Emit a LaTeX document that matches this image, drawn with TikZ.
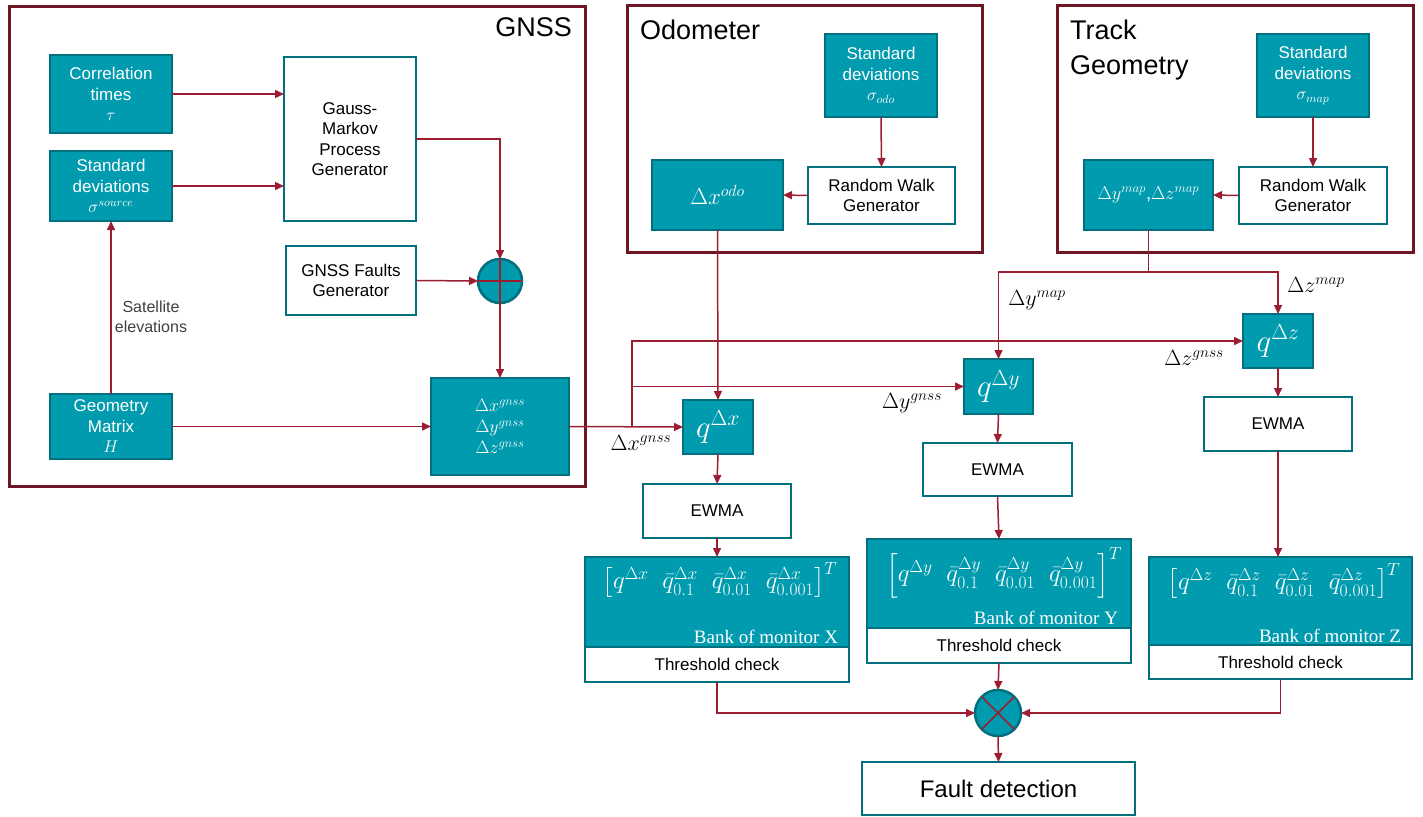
\documentclass[tikz,border=0pt]{standalone}
\usepackage{fix-cm}
\usepackage{amsmath}
\usepackage{fontspec}
\setmainfont{Liberation Sans}
\newfontfamily\bankfont{Liberation Serif}
\usetikzlibrary{arrows.meta}
\definecolor{tealfill}{RGB}{0,155,174}
\definecolor{tealline}{RGB}{0,112,127}
\definecolor{arrc}{RGB}{155,30,50}
\definecolor{framec}{RGB}{110,22,35}
\definecolor{grayt}{RGB}{64,64,64}
\newcommand\fsz[2]{\fontsize{#1}{#2}\selectfont}
\tikzset{
  tb/.style={draw=tealline, fill=tealfill, line width=2.5pt, text=white, align=center, font=\fsz{17}{20.5}},
  wb/.style={draw=tealline, fill=white, line width=2.5pt, text=black, align=center, font=\fsz{17}{20.5}},
  arr/.style={draw=arrc, line width=1.5pt, -{Triangle[length=9pt,width=8pt]}},
  ln/.style={draw=arrc, line width=1.5pt},
  grp/.style={draw=framec, line width=3pt},
  ttl/.style={font=\fsz{27}{35}, text=black, align=left},
  lbl/.style={font=\fsz{22}{26}, text=black},
  bankt/.style={font=\bankfont\fsz{19}{24}, text=white},
  mtx/.style={font=\fsz{25}{28}, text=white}
}
\begin{document}
\begin{tikzpicture}[x=1pt,y=-1pt, every node/.style={inner sep=0pt, outer sep=0pt}]
\useasboundingbox (0,0) rectangle (1423,816);
% group frames
\draw[grp] (9,7) rectangle (585,486);
\draw[grp] (627,6) rectangle (982,252);
\draw[grp] (1057,6) rectangle (1413,252);
\node[ttl, anchor=north east] (tgnss) at (572,18) {GNSS};
\node[ttl, anchor=north west] (todo) at (640,20) {Odometer};
\node[ttl, anchor=north west] (ttrack) at (1070,20) {Track\\Geometry};
% GNSS block
\node[tb, minimum width=122pt, minimum height=78pt] (corr) at (111,94) {Correlation\\times\\$\tau$};
\node[tb, minimum width=122pt, minimum height=70pt] (sdsrc) at (111,186) {Standard\\deviations\\$\sigma^{source}$};
\node[tb, minimum width=122pt, minimum height=65pt] (geo) at (111,426.5) {Geometry\\Matrix\\$H$};
\node[wb, minimum width=132pt, minimum height=164pt] (gm) at (350,139) {Gauss-\\Markov\\Process\\Generator};
\node[wb, minimum width=130pt, minimum height=69pt] (faults) at (351,280.5) {GNSS Faults\\Generator};
\node[circle, draw=tealline, fill=tealfill, line width=2.5pt, minimum size=44pt] (plus) at (500,281) {};
\node[tb, minimum width=138pt, minimum height=97pt, font=\fsz{18}{21}] (dgnss) at (500,426.5) {$\Delta x^{gnss}$\\$\Delta y^{gnss}$\\$\Delta z^{gnss}$};
\node[font=\fsz{16}{20}, text=grayt, align=center] (satl) at (151,317) {Satellite\\elevations};
% Odometer block
\node[tb, minimum width=112pt, minimum height=83pt] (sdodo) at (881,75.5) {Standard\\deviations\\$\sigma_{odo}$};
\node[wb, minimum width=147pt, minimum height=57pt] (rwodo) at (881.5,195.5) {Random Walk\\Generator};
\node[tb, minimum width=131pt, minimum height=70pt, font=\fsz{23}{26}] (dxodo) at (717.5,195) {$\Delta x^{odo}$};
% Track geometry block
\node[tb, minimum width=112pt, minimum height=83pt] (sdmap) at (1313,75.5) {Standard\\deviations\\$\sigma_{map}$};
\node[wb, minimum width=148pt, minimum height=57pt] (rwmap) at (1313,195.5) {Random Walk\\Generator};
\node[tb, minimum width=129pt, minimum height=70pt, font=\fsz{18.5}{21}] (dmap) at (1148.5,195) {$\Delta y^{map}$,$\Delta z^{map}$};
% q boxes
\node[tb, minimum width=70pt, minimum height=54pt, font=\fsz{31}{34}] (qx) at (718,427) {$q^{\Delta x}$};
\node[tb, minimum width=69pt, minimum height=55pt, font=\fsz{31}{34}] (qy) at (998.5,386.5) {$q^{\Delta y}$};
\node[tb, minimum width=70pt, minimum height=54pt, font=\fsz{31}{34}] (qz) at (1278,341) {$q^{\Delta z}$};
% EWMA
\node[wb, minimum width=148pt, minimum height=54pt] (ewx) at (717,511) {EWMA};
\node[wb, minimum width=149pt, minimum height=53pt] (ewy) at (997.5,469.5) {EWMA};
\node[wb, minimum width=148pt, minimum height=54pt] (ewz) at (1278,424) {EWMA};
% Banks
\node[tb, minimum width=264pt, minimum height=90pt] (bankx) at (717,602) {};
\node[wb, minimum width=264pt, minimum height=35pt] (thrx) at (717,664.5) {Threshold check};
\node[mtx] (mx) at (720,580) {$\left[q^{\Delta x}\;\;\bar q^{\Delta x}_{0.1}\;\;\bar q^{\Delta x}_{0.01}\;\;\bar q^{\Delta x}_{0.001}\right]^T$};
\node[bankt, anchor=base east] (bx) at (838,643) {Bank of monitor X};
\node[tb, minimum width=264pt, minimum height=89pt] (banky) at (999,583.5) {};
\node[wb, minimum width=264pt, minimum height=35pt] (thry) at (999,645.5) {Threshold check};
\node[mtx] (my) at (1004,573) {$\left[q^{\Delta y}\;\;\bar q^{\Delta y}_{0.1}\;\;\bar q^{\Delta y}_{0.01}\;\;\bar q^{\Delta y}_{0.001}\right]^T$};
\node[bankt, anchor=base east] (by) at (1118,624) {Bank of monitor Y};
\node[tb, minimum width=263pt, minimum height=88pt] (bankz) at (1280.5,601) {};
\node[wb, minimum width=263pt, minimum height=34pt] (thrz) at (1280.5,662) {Threshold check};
\node[mtx] (mz) at (1284,581) {$\left[q^{\Delta z}\;\;\bar q^{\Delta z}_{0.1}\;\;\bar q^{\Delta z}_{0.01}\;\;\bar q^{\Delta z}_{0.001}\right]^T$};
\node[bankt, anchor=base east] (bz) at (1401,642) {Bank of monitor Z};
% combiner and result
\node[circle, draw=tealline, fill=tealfill, line width=2.5pt, minimum size=46pt] (mult) at (998,713) {};
\node[wb, minimum width=273pt, minimum height=53pt, font=\fsz{24}{28}] (fd) at (998.5,788.5) {Fault detection};
% connectors GNSS
\draw[arr] (corr.east) -- (corr.east -| gm.west);
\draw[arr] (sdsrc.east) -- (sdsrc.east -| gm.west);
\draw[arr] (geo.north) -- (sdsrc.south);
\draw[arr] (gm.east) -| (plus.north);
\draw[arr] (faults.east) -- (plus.west);
\draw[ln] (plus.north) -- (plus.south);
\draw[ln] (plus.west) -- (plus.east);
\draw[arr] (plus.south) -- (dgnss.north);
\draw[arr] (geo.east) -- (dgnss.west);
% odometer
\draw[arr] (sdodo.south) -- (rwodo.north);
\draw[arr] (rwodo.west) -- (dxodo.east);
\draw[arr] (dxodo.south) -- (qx.north);
% map
\draw[arr] (sdmap.south) -- (rwmap.north);
\draw[arr] (rwmap.west) -- (dmap.east);
\coordinate (mapj) at (1148.5,272);
\draw[ln] (dmap.south) -- (mapj);
\draw[arr] (mapj) -| (qy.north);
\draw[arr] (mapj) -| (qz.north);
% gnss to q
\coordinate (gj) at (632,427);
\draw[arr] (dgnss.east) -- (qx.west);
\draw[arr] (gj) |- (qz.west);
\draw[arr] (gj |- qy.west) -- (qy.west);
% labels
\node[lbl] (lxg) at (641,443) {$\Delta x^{gnss}$};
\node[lbl] (lyg) at (912,403) {$\Delta y^{gnss}$};
\node[lbl] (lzg) at (1194,358) {$\Delta z^{gnss}$};
\node[lbl] (lym) at (1037,300) {$\Delta y^{map}$};
\node[lbl] (lzm) at (1316,285) {$\Delta z^{map}$};
% q to EWMA to banks
\draw[arr] (qx.south) -- (ewx.north);
\draw[arr] (ewx.south) -- (bankx.north);
\draw[arr] (qy.south) -- (ewy.north);
\draw[arr] (ewy.south) -- (banky.north);
\draw[arr] (qz.south) -- (ewz.north);
\draw[arr] (ewz.south) -- (ewz.south |- bankz.north);
% banks to combiner
\draw[arr] (thrx.south) |- (mult.west);
\draw[arr] (thrz.south) |- (mult.east);
\draw[arr] (thry.south) -- (mult.north);
\draw[ln] (mult.north west) -- (mult.south east);
\draw[ln] (mult.north east) -- (mult.south west);
\draw[arr] (mult.south) -- (fd.north);
\end{tikzpicture}
\end{document}
